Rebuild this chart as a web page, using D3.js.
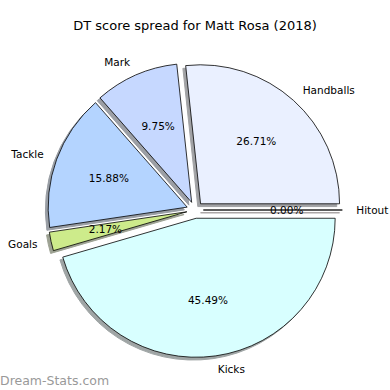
<!DOCTYPE html>
<html>
<head>
<meta charset="utf-8">
<script src="https://cdn.jsdelivr.net/npm/d3@7"></script>
<style>
  body { margin: 0; background: #fff; }
  text { font-family: "DejaVu Sans", sans-serif; }
</style>
</head>
<body>
<svg id="chart"></svg>
<script>
// pie data, in matplotlib order (counter-clockwise from 3 o'clock)
const labels = ['Hitout', 'Handballs', 'Mark', 'Tackle', 'Goals', 'Kicks'];
const values = [0.00, 26.71, 9.75, 15.88, 2.17, 45.49];
const colors = ['#ffe0e0', '#eaf0ff', '#c6d8ff', '#b4d4ff', '#cdeb8b', '#d8ffff'];

const width = 390, height = 390;
const cx = 195, cy = 210, r = 139;
const explode = 0.06;

const svg = d3.select('#chart').attr('width', width).attr('height', height);

svg.append('text')
  .attr('x', width / 2)
  .attr('y', 30)
  .attr('text-anchor', 'middle')
  .style('font-size', '13px')
  .text('DT score spread for Matt Rosa (2018)');

const data = labels.map((l, i) => ({ label: l, value: values[i], color: colors[i] }));

// d3 angles start at 12 o'clock clockwise, so go backwards from 3 o'clock
const pie = d3.pie().sort(null).value(d => d.value)
  .startAngle(Math.PI / 2).endAngle(Math.PI / 2 - 2 * Math.PI);
const arcs = pie(data);

const arc = d3.arc().innerRadius(0).outerRadius(r);

function offset(d, k) {
  const a = (d.startAngle + d.endAngle) / 2;
  return [Math.sin(a) * k, -Math.cos(a) * k];
}

function shade(d) {
  const c = d3.rgb(d.data.color);
  return d3.rgb(c.r * 0.3, c.g * 0.3, c.b * 0.3);
}

const g = svg.append('g').attr('transform', `translate(${cx},${cy})`);

// shadows first, under everything
g.selectAll('.shadow')
  .data(arcs)
  .enter().append('path')
  .attr('class', 'shadow')
  .attr('d', arc)
  .attr('transform', d => {
    const o = offset(d, explode * r);
    return `translate(${o[0] - 0.02 * r},${o[1] + 0.02 * r})`;
  })
  .attr('fill', shade)
  .attr('stroke', shade)
  .attr('stroke-width', 1)
  .attr('opacity', 0.5);

g.selectAll('.wedge')
  .data(arcs)
  .enter().append('path')
  .attr('class', 'wedge')
  .attr('d', arc)
  .attr('transform', d => {
    const o = offset(d, explode * r);
    return `translate(${o[0]},${o[1]})`;
  })
  .attr('fill', d => d.data.color)
  .attr('stroke', '#000')
  .attr('stroke-width', 0.8)
  .attr('stroke-linejoin', 'round');

// percentage texts
g.selectAll('.pct')
  .data(arcs)
  .enter().append('text')
  .attr('class', 'pct')
  .attr('x', d => offset(d, explode * r)[0] + offset(d, 0.6 * r)[0])
  .attr('y', d => offset(d, explode * r)[1] + offset(d, 0.6 * r)[1])
  .attr('dy', '0.35em')
  .attr('text-anchor', 'middle')
  .style('font-size', '10.5px')
  .text(d => d.data.value.toFixed(2) + '%');

// category labels
g.selectAll('.lab')
  .data(arcs)
  .enter().append('text')
  .attr('class', 'lab')
  .attr('x', d => offset(d, explode * r)[0] + offset(d, 1.1 * r)[0])
  .attr('y', d => offset(d, explode * r)[1] + offset(d, 1.1 * r)[1])
  .attr('dy', '0.35em')
  .attr('text-anchor', d => offset(d, 1)[0] >= 0 ? 'start' : 'end')
  .style('font-size', '10.5px')
  .text(d => d.data.label);

svg.append('text')
  .attr('x', 0)
  .attr('y', 385)
  .attr('fill', '#999999')
  .style('font-size', '12.5px')
  .text('Dream-Stats.com');
</script>
</body>
</html>
